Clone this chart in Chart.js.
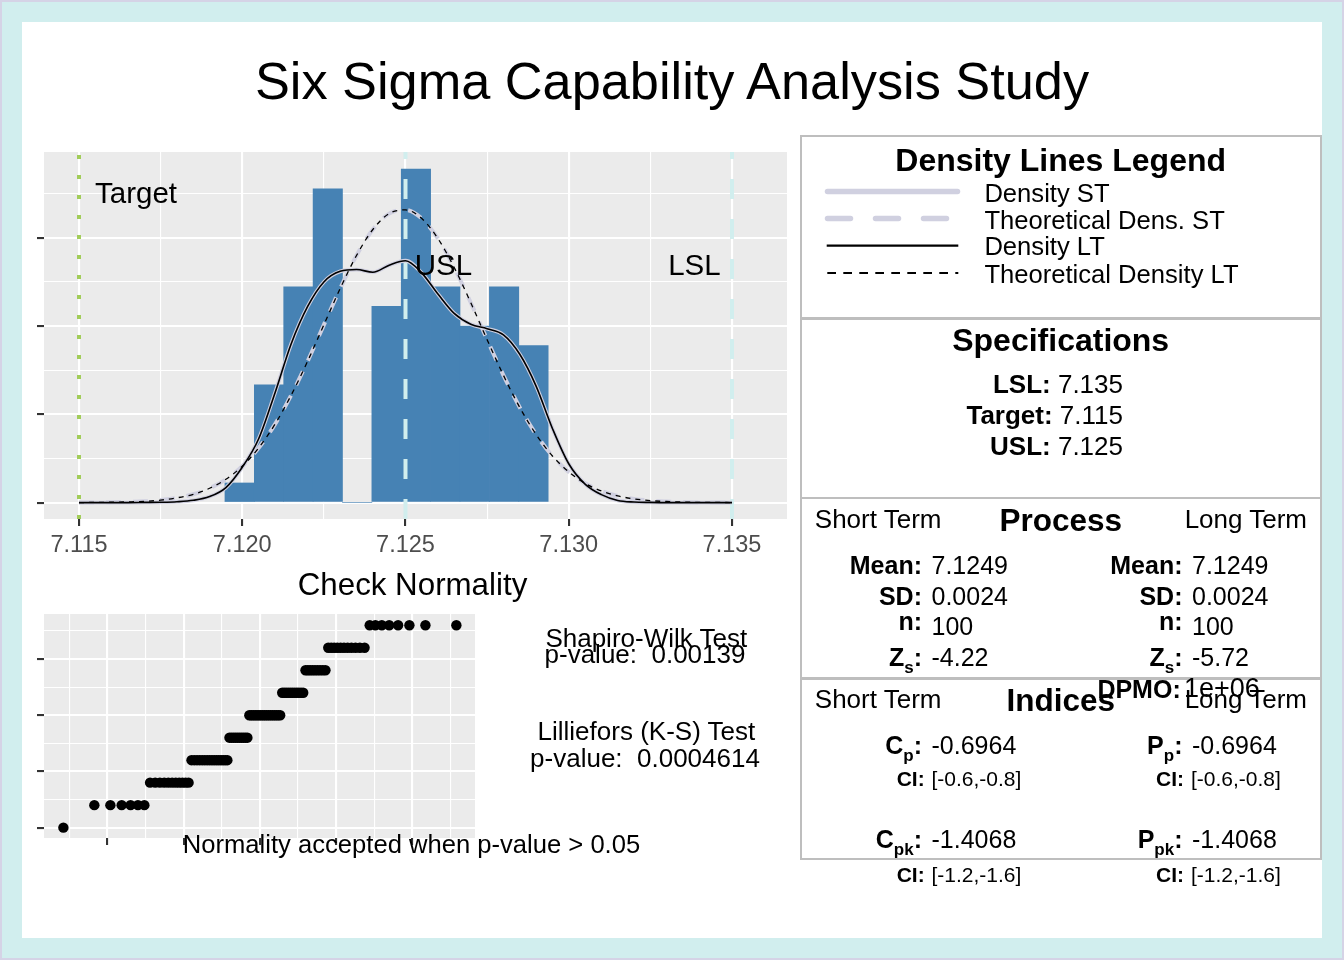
<!DOCTYPE html>
<html>
<head>
<meta charset="utf-8">
<title>Six Sigma Capability Analysis Study</title>
<script src="https://cdn.jsdelivr.net/npm/chart.js@4.4.1/dist/chart.umd.min.js"></script>
<style>
    html, body { margin: 0; padding: 0; }
    body {
        width: 1344px; height: 960px; position: relative; overflow: hidden;
        background: #d5d3e6;
        font-family: "Liberation Sans", Arial, sans-serif;
    }
    #bg { position: absolute; left: 2px; top: 2px; width: 1340px; height: 956px; background: #d1eeee; }
    #panel { position: absolute; left: 22px; top: 22px; width: 1300px; height: 916px; background: #ffffff; }
    canvas { position: absolute; }
    #hist { left: 30px; top: 140px; }
    #qq { left: 30px; top: 600px; }
    .box { position: absolute; border: 2.5px solid #bebebe; box-sizing: border-box; }
    .t { position: absolute; white-space: pre; color: #000; }
    .sub { font-size: 17px; position: relative; top: 7px; }
    #legendLines { position: absolute; left: 0; top: 0; }
</style>
</head>
<body>
<div id="bg"></div>
<div id="panel"></div>
<canvas id="hist" width="770" height="430"></canvas>
<canvas id="qq" width="460" height="260"></canvas>

<div class="box" style="left:800px; top:135px; width:522px; height:185px;"></div>
<div class="box" style="left:800px; top:316.5px; width:522px; height:182.5px;"></div>
<div class="box" style="left:800px; top:496.5px; width:522px; height:183.5px;"></div>
<div class="box" style="left:800px; top:677px; width:522px; height:183px;"></div>

<svg id="legendLines" width="1344" height="960">
    <line x1="827.5" y1="191.5" x2="957.5" y2="191.5" stroke="#d0d0e0" stroke-width="5.5" stroke-linecap="round"/>
    <line x1="827.5" y1="218.5" x2="947" y2="218.5" stroke="#d0d0e0" stroke-width="5.5" stroke-linecap="round" stroke-dasharray="23 25"/>
    <line x1="826.7" y1="245.7" x2="958.3" y2="245.7" stroke="#000" stroke-width="2.2"/>
    <line x1="827.3" y1="273" x2="958.3" y2="273" stroke="#000" stroke-width="2.2" stroke-dasharray="8.7 7.3"/>
</svg>

<script>
// ---- values ----

// histogram: 100 measurements, bins of 0.0009
const binCenters = [7.11992, 7.12082, 7.12172, 7.12262, 7.12352, 7.12442, 7.12532, 7.12622, 7.12712, 7.12802, 7.12892];
const binCounts = [1, 6, 11, 16, 0, 10, 17, 11, 9, 11, 8];
const binWidth = 0.0009;
const sampleSize = 100;

// density curves (ST and LT coincide in this study)
const curveX = [
    7.1150, 7.1155, 7.1160, 7.1165, 7.1170, 7.1175, 7.1180, 7.1185, 7.1190, 7.1195,
    7.1200, 7.1205, 7.1210, 7.1215, 7.1220, 7.1225, 7.1230, 7.1235, 7.1240, 7.1245,
    7.1250, 7.1255, 7.1260, 7.1265, 7.1270, 7.1275, 7.1280, 7.1285, 7.1290, 7.1295,
    7.1300, 7.1305, 7.1310, 7.1315, 7.1320, 7.1325, 7.1330, 7.1335, 7.1340, 7.1345, 7.1350
];
const densityST = [
    0, 0, 0, 0, 0.1, 0.2, 0.5, 1.3, 3.4, 8.5,
    20, 36, 62, 90, 111, 125, 131, 132, 130.5, 134.5,
    137, 130, 118, 107, 101, 98.5, 95, 84, 66, 42,
    22, 10.5, 4.5, 1.2, 0.3, 0.1, 0, 0, 0, 0, 0
];
const theoreticalST = [
    0, 0.1, 0.2, 0.4, 0.7, 1.4, 2.7, 4.7, 8.1, 13.2,
    20.6, 30.9, 44.3, 60.9, 80.0, 100.7, 121.3, 140.0, 154.7, 163.7,
    165.8, 160.9, 149.4, 132.9, 113.2, 92.3, 72.1, 53.9, 38.6, 26.4,
    17.4, 10.9, 6.6, 3.8, 2.1, 1.1, 0.6, 0.3, 0.1, 0.1, 0
];
const densityLT = densityST.slice();
const theoreticalLT = theoreticalST.slice();

const specNames = ['Target', 'USL', 'LSL'];
const specValues = [7.115, 7.125, 7.135];

const histXMajor = [7.115, 7.120, 7.125, 7.130, 7.135];
const histXMinor = [7.1175, 7.1225, 7.1275, 7.1325];
const histYMajor = [0, 50, 100, 150];
const histYMinor = [25, 75, 125, 175];

// normal Q-Q plot
const qqLevels = [7.120, 7.121, 7.122, 7.123, 7.124, 7.125, 7.126, 7.127, 7.128, 7.129];
const qqCounts = [1, 6, 11, 16, 10, 17, 11, 9, 11, 8];
const qqQuantLower = [
    -2.5758, -2.1701, -1.9600, -1.8119, -1.6954, -1.5982, -1.5141, -1.4395, -1.3722, -1.3106,
    -1.2536, -1.2004, -1.1503, -1.1031, -1.0581, -1.0152, -0.9741, -0.9346, -0.8965, -0.8596,
    -0.8239, -0.7892, -0.7554, -0.7225, -0.6903, -0.6588, -0.6280, -0.5978, -0.5681, -0.5388,
    -0.5101, -0.4817, -0.4538, -0.4261, -0.3989, -0.3719, -0.3451, -0.3186, -0.2924, -0.2663,
    -0.2404, -0.2147, -0.1891, -0.1637, -0.1383, -0.1130, -0.0878, -0.0627, -0.0376, -0.0125
];
const qqXMajor = [-2, -1, 0, 1, 2];
const qqXMinor = [-2.5, -1.5, -0.5, 0.5, 1.5, 2.5];
const qqYMajor = [7.1200, 7.1225, 7.1250, 7.1275];
const qqYMinor = [7.12125, 7.12375, 7.12625, 7.12875];

// ---- helpers ----
const FONT = '"Liberation Sans", Arial, sans-serif';

const panelBg = {
    id: 'panelBg',
    beforeDraw(chart) {
        const { ctx, chartArea: a } = chart;
        ctx.save();
        ctx.fillStyle = '#ebebeb';
        ctx.fillRect(a.left, a.top, a.right - a.left, a.bottom - a.top);
        ctx.restore();
    }
};

const specLabels = {
    id: 'specLabels',
    afterDatasetsDraw(chart) {
        const { ctx, scales: { x, y } } = chart;
        ctx.save();
        ctx.font = '29.5px ' + FONT;
        ctx.fillStyle = '#000';
        ctx.textBaseline = 'alphabetic';
        ctx.textAlign = 'left';
        ctx.fillText(specNames[0], x.getPixelForValue(7.11549), y.getPixelForValue(169.7));
        ctx.textAlign = 'center';
        ctx.fillText(specNames[1], x.getPixelForValue(7.12616), y.getPixelForValue(129));
        ctx.fillText(specNames[2], x.getPixelForValue(7.13385), y.getPixelForValue(129));
        ctx.restore();
    }
};

function ggScale(min, max, major, minor, extra) {
    const all = major.concat(minor).sort((a, b) => a - b);
    const isMajor = v => major.some(m => Math.abs(m - v) < 1e-9);
    const cfg = {
        type: 'linear',
        min: min,
        max: max,
        offset: false,
        afterBuildTicks: s => { s.ticks = all.map(v => ({ value: v })); },
        grid: {
            offset: false,
            color: '#ffffff',
            lineWidth: c => (c.tick && isMajor(c.tick.value)) ? 2.1 : 1.1,
            drawTicks: true,
            tickLength: 7,
            tickWidth: 2.1,
            tickColor: c => (c.tick && isMajor(c.tick.value)) ? '#333333' : 'rgba(0,0,0,0)'
        },
        border: { display: false },
        ticks: { display: false }
    };
    if (extra && extra.labels) {
        cfg.ticks = {
            display: true,
            autoSkip: false,
            maxRotation: 0,
            padding: 5,
            color: '#4d4d4d',
            font: { family: FONT, size: 23.5 },
            callback: v => isMajor(v) ? v.toFixed(3) : ''
        };
    }
    cfg.afterFit = extra.fit;
    return cfg;
}

// ---- histogram with density lines ----
const histPoints = binCenters.map((c, i) => ({ x: c, y: binCounts[i] / (sampleSize * binWidth) }));
const curve = vals => curveX.map((x, i) => ({ x: x, y: vals[i] }));
const histYMin = -9.3, histYMax = 198.6;
const vline = v => [{ x: v, y: histYMin }, { x: v, y: histYMax }];

new Chart(document.getElementById('hist'), {
    type: 'bar',
    data: {
        datasets: [
            { type: 'bar', data: histPoints, backgroundColor: '#4682b4', borderWidth: 0,
              barPercentage: 1, categoryPercentage: 1, order: 10 },
            { type: 'line', data: vline(specValues[0]), borderColor: '#a2cd5a', borderWidth: 4,
              borderDash: [4, 16], pointRadius: 0, order: 9 },
            { type: 'line', data: vline(specValues[1]), borderColor: '#d1eeee', borderWidth: 4,
              borderDash: [20, 20], pointRadius: 0, order: 9 },
            { type: 'line', data: vline(specValues[2]), borderColor: '#d1eeee', borderWidth: 4,
              borderDash: [20, 20], pointRadius: 0, order: 9 },
            { type: 'line', data: curve(densityST), borderColor: '#d0d0e0', borderWidth: 3.8,
              pointRadius: 0, cubicInterpolationMode: 'monotone', order: 8 },
            { type: 'line', data: curve(theoreticalST), borderColor: '#d0d0e0', borderWidth: 4,
              borderDash: [15, 12], pointRadius: 0, cubicInterpolationMode: 'monotone', order: 7 },
            { type: 'line', data: curve(densityLT), borderColor: '#000000', borderWidth: 1.6,
              pointRadius: 0, cubicInterpolationMode: 'monotone', order: 6 },
            { type: 'line', data: curve(theoreticalLT), borderColor: '#000000', borderWidth: 1.3,
              borderDash: [5, 5], pointRadius: 0, cubicInterpolationMode: 'monotone', order: 5 }
        ]
    },
    options: {
        responsive: false,
        animation: false,
        events: [],
        layout: { padding: { left: 0, right: 13, top: 12, bottom: 0 } },
        plugins: { legend: { display: false }, tooltip: { enabled: false } },
        scales: {
            x: ggScale(7.113928, 7.136685, histXMajor, histXMinor, { labels: true, fit: s => { s.height = 51; } }),
            y: ggScale(histYMin, histYMax, histYMajor, histYMinor, { fit: s => { s.width = 14; } })
        }
    },
    plugins: [panelBg, specLabels]
});

// ---- normal Q-Q plot ----
const qqSample = [];
qqLevels.forEach((v, i) => { for (let k = 0; k < qqCounts[i]; k++) qqSample.push(v); });
const qqTheoretical = qqQuantLower.concat(qqQuantLower.slice().reverse().map(q => -q));
const qqPoints = qqSample.map((v, i) => ({ x: qqTheoretical[i], y: v }));

new Chart(document.getElementById('qq'), {
    type: 'scatter',
    data: {
        datasets: [
            { data: qqPoints, backgroundColor: '#000000', borderWidth: 0, pointRadius: 5.2 }
        ]
    },
    options: {
        responsive: false,
        animation: false,
        events: [],
        layout: { padding: { left: 0, right: 15, top: 14, bottom: 0 } },
        plugins: { legend: { display: false }, tooltip: { enabled: false } },
        scales: {
            x: ggScale(-2.83, 2.82, qqXMajor, qqXMinor, { fit: s => { s.height = 22; } }),
            y: ggScale(7.11954, 7.12950, qqYMajor, qqYMinor, { fit: s => { s.width = 14; } })
        }
    },
    plugins: [panelBg]
});

// ---- text ----
function put(html, x, base, size, align, bold) {
    const d = document.createElement('div');
    d.className = 't';
    d.innerHTML = html;
    d.style.fontSize = size + 'px';
    d.style.lineHeight = size + 'px';
    d.style.top = (base - 0.8465 * size) + 'px';
    if (bold) d.style.fontWeight = 'bold';
    if (align === 'right') {
        d.style.right = (1344 - x) + 'px';
    } else if (align === 'center') {
        d.style.left = x + 'px';
        d.style.transform = 'translateX(-50%)';
    } else {
        d.style.left = x + 'px';
    }
    document.body.appendChild(d);
}

put('Six Sigma Capability Analysis Study', 672, 99, 52.3, 'center');
put('Check Normality', 412.5, 595, 31.3, 'center');

put('Shapiro-Wilk Test', 646.3, 646.7, 26, 'center');
put('p-value:  0.00139', 645, 662.7, 26, 'center');
put('Lilliefors (K-S) Test', 646.4, 740, 26, 'center');
put('p-value:  0.0004614', 645, 766.7, 26, 'center');
put('Normality accepted when p-value &gt; 0.05', 411.5, 853.3, 25.6, 'center');

// legend box
put('Density Lines Legend', 1060.7, 170.7, 32, 'center', true);
put('Density ST', 984.4, 202.7, 25.6);
put('Theoretical Dens. ST', 984.4, 229.3, 25.6);
put('Density LT', 984.4, 256, 25.6);
put('Theoretical Density LT', 984.4, 283.3, 25.6);

// specifications box
put('Specifications', 1060.7, 350.7, 32, 'center', true);
put('<b>LSL:</b> 7.135', 1123, 393.3, 26, 'right');
put('<b>Target:</b> 7.115', 1123, 424.3, 26, 'right');
put('<b>USL:</b> 7.125', 1123, 455, 26, 'right');

// process / indices boxes
function row(label, value, colon, base, size, valueBase, valueX, valueSize) {
    put(label, colon, base, size, 'right', true);
    put(value, valueX || (colon + 9.5), valueBase || base, valueSize || size);
}

put('Short Term', 814.8, 528.3, 26);
put('Process', 1060.7, 531.7, 31.5, 'center', true);
put('Long Term', 1307, 528.3, 26, 'right');

row('Mean:', '7.1249', 922, 574.3, 25);
row('SD:', '0.0024', 922, 605, 25);
row('n:', '100', 922, 630, 25, 635);
row('Z<span class="sub">s</span>:', '-4.22', 922, 665.7, 25);

row('Mean:', '7.1249', 1182.5, 574.3, 25);
row('SD:', '0.0024', 1182.5, 605, 25);
row('n:', '100', 1182.5, 630, 25, 635);
row('Z<span class="sub">s</span>:', '-5.72', 1182.5, 665.7, 25);

put('Short Term', 814.8, 708.3, 26);
put('Indices', 1060.7, 711.7, 31.5, 'center', true);
put('Long Term', 1307, 708.3, 26, 'right');
row('DPMO:', '1e+06', 1180.7, 698.3, 25, null, 1184, 27);

row('C<span class="sub">p</span>:', '-0.6964', 922, 754.3, 25);
row('CI:', '[-0.6,-0.8]', 924.7, 785.7, 21, null, 931.5);
row('C<span class="sub">pk</span>:', '-1.4068', 922, 847.7, 25);
row('CI:', '[-1.2,-1.6]', 924.7, 881.7, 21, null, 931.5);

row('P<span class="sub">p</span>:', '-0.6964', 1182.5, 754.3, 25);
row('CI:', '[-0.6,-0.8]', 1184, 785.7, 21, null, 1191);
row('P<span class="sub">pk</span>:', '-1.4068', 1182.5, 847.7, 25);
row('CI:', '[-1.2,-1.6]', 1184, 881.7, 21, null, 1191);
</script>
</body>
</html>
